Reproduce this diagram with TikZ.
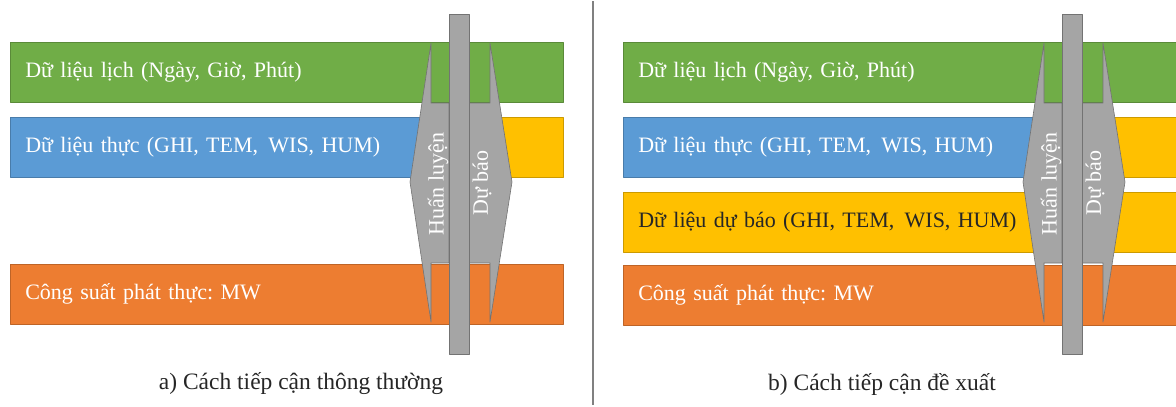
\documentclass[tikz,border=0pt]{standalone}
\usepackage{fontspec}
\setmainfont{Liberation Serif}
\definecolor{xanhla}{HTML}{70AD47}
\definecolor{xanhduong}{HTML}{5B9BD5}
\definecolor{vang}{HTML}{FFC000}
\definecolor{cam}{HTML}{ED7D31}
\definecolor{xam}{HTML}{A5A5A5}
\definecolor{chudam}{HTML}{262626}
\frenchspacing
\begin{document}
\begin{tikzpicture}[x=1pt, y=-1pt, line join=round, font=\fontsize{22}{26}\selectfont,
	databar/.style={anchor=north west, fill=#1, draw=#1!80!black, line width=0.6pt,
		minimum height=60pt, inner xsep=15pt, inner ysep=0pt, align=left, text=white},
	khoixam/.style={fill=xam, draw=xam!70!black, line width=0.6pt},
	chudoc/.style={rotate=90, text=white, inner sep=0pt},
	chuthich/.style={text=chudam, font=\fontsize{23.5}{28}\selectfont}]
	\useasboundingbox (0,0) rectangle (1176,407);
	% a) cach tiep can thong thuong
	\node[databar=xanhla, text width=523pt] (lichA) at (10,42) {Dữ liệu lịch (Ngày, Giờ, Phút)};
	\node[databar=xanhduong, text width=409pt] (thucA) at (10,117) {Dữ liệu thực (GHI, TEM,\hspace{3pt} WIS, HUM)};
	\node[databar=vang, text width=64pt] (vangA) at (469,117) {};
	\node[databar=cam, text width=523pt] (csA) at (10,264) {Công suất phát thực: MW};
	\draw[khoixam] (431,43) -- (410,182) -- (431,322) -- (431,263) -- (449,263) -- (449,103) -- (431,103) -- cycle;
	\draw[khoixam] (490,43) -- (512,182) -- (490,322) -- (490,263) -- (469,263) -- (469,103) -- (490,103) -- cycle;
	\draw[khoixam] (449,14) rectangle (469,354);
	\node[chudoc] (huanA) at (438,184) {Huấn luyện};
	\node[chudoc] (duA) at (482,183) {Dự báo};
	\node[chuthich] (capA) at (301,384) {a) Cách tiếp cận thông thường};
	% duong phan cach
	\draw[gray, line width=1.5pt] (593,1) -- (593,405);
	% b) cach tiep can de xuat
	\begin{scope}[xshift=613pt]
	\node[databar=xanhla, text width=523pt] (lichB) at (10,42) {Dữ liệu lịch (Ngày, Giờ, Phút)};
	\node[databar=xanhduong, text width=409pt] (thucB) at (10,117) {Dữ liệu thực (GHI, TEM,\hspace{3pt} WIS, HUM)};
	\node[databar=vang, text width=64pt] (vangB) at (469,117) {};
	\node[databar=vang, text width=523pt, text=chudam] (dbB) at (10,192) {Dữ liệu dự báo (GHI, TEM,\hspace{3pt} WIS, HUM)};
	\node[databar=cam, text width=523pt] (csB) at (10,265) {Công suất phát thực: MW};
	\draw[khoixam] (431,43) -- (410,182) -- (431,322) -- (431,263) -- (449,263) -- (449,103) -- (431,103) -- cycle;
	\draw[khoixam] (490,43) -- (512,182) -- (490,322) -- (490,263) -- (469,263) -- (469,103) -- (490,103) -- cycle;
	\draw[khoixam] (449,14) rectangle (469,354);
	\node[chudoc] (huanB) at (438,184) {Huấn luyện};
	\node[chudoc] (duB) at (482,183) {Dự báo};
	\node[chuthich] (capB) at (269,384) {b) Cách tiếp cận đề xuất};
	\end{scope}
\end{tikzpicture}
\end{document}
